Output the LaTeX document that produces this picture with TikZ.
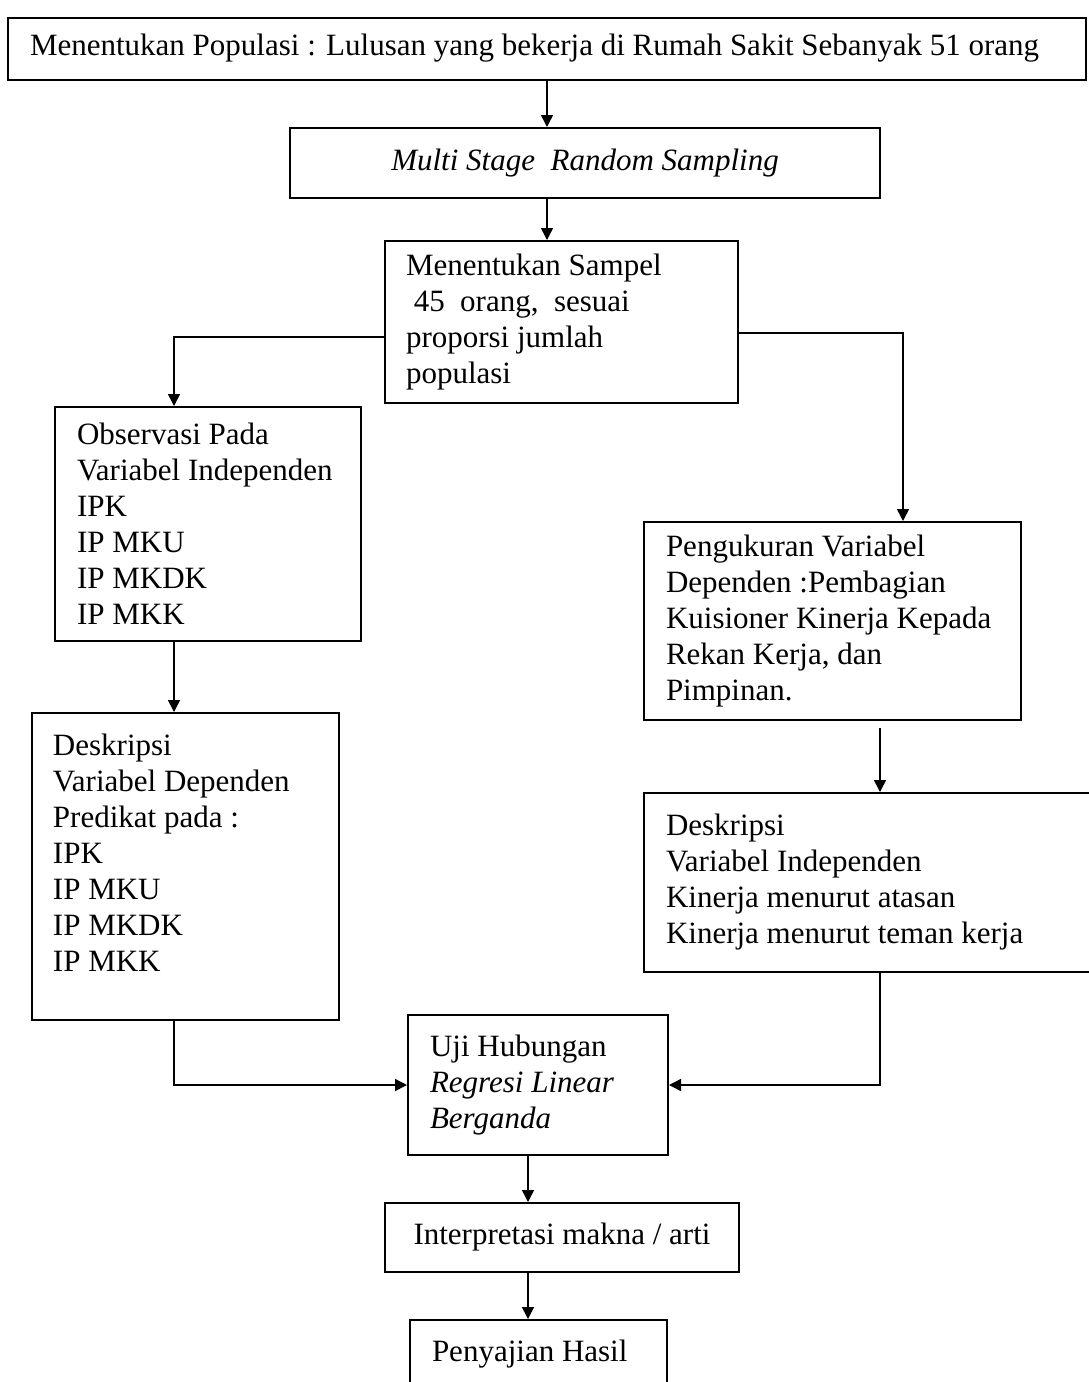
\documentclass[tikz,border=0pt]{standalone}
\usepackage{fontspec}
\setmainfont{Liberation Serif}
\usetikzlibrary{arrows.meta,calc,positioning}

\begin{document}
\begin{tikzpicture}[x=0.5pt,y=-0.5pt,
  box/.style={draw,line width=1pt,shape=rectangle,align=flush left,inner xsep=11pt,inner ysep=0pt,
    font=\fontsize{15.5}{18}\selectfont},
  arr/.style={line width=0.75pt,-{Triangle[width=6pt,length=6pt]}}]
\useasboundingbox (0,0) rectangle (1088,1382);
% boxes
\node[box, text width=517pt, minimum height=31pt] (pop) at (547,49) {\mbox{Menentukan Populasi : Lulusan yang bekerja di Rumah Sakit Sebanyak 51 orang}\\[-14pt]\mbox{}};
\node[box, align=flush center, text width=273pt, minimum height=35pt] (msrs) at (585,163) {\itshape Multi Stage\ \ Random Sampling};
\node[box, inner xsep=10.5pt, text width=155.5pt, minimum height=81pt] (sampel) at (561.5,322) {Menentukan Sampel\\ \ 45\ \ orang,\ \ sesuai\\ proporsi jumlah\\ populasi};
\node[box, text width=131pt, minimum height=117pt] (obs) at (208,524) {Observasi Pada\\ Variabel Independen\\ IPK\\ IP MKU\\ IP MKDK\\ IP MKK};
\node[box, inner xsep=10.5pt, text width=132.5pt, minimum height=153.5pt] (deskL) at (185.5,866.5) {Deskripsi\\ Variabel Dependen\\ Predikat pada :\\ IPK\\ IP MKU\\ IP MKDK\\ IP MKK\\[-4pt]\mbox{}};
\node[box, text width=166.5pt, minimum height=99pt] (peng) at (832.5,621) {Pengukuran Variabel\\ Dependen :Pembagian\\ Kuisioner Kinerja Kepada\\ Rekan Kerja, dan\\ Pimpinan.};
\node[box, text width=201pt, minimum height=89.5pt] (deskR) at (867,882.5) {Deskripsi\\ Variabel Independen\\ Kinerja menurut atasan\\ Kinerja menurut teman kerja};
\node[box, text width=108pt, minimum height=70pt] (uji) at (538,1085) {Uji Hubungan\\ \itshape Regresi Linear\\ \itshape Berganda};
\node[box, align=flush center, text width=155pt, minimum height=34.5pt] (interp) at (562,1237.5) {Interpretasi makna / arti};
\node[box, text width=106.5pt, minimum height=34pt] (hasil) at (538.5,1354) {Penyajian Hasil};
% connectors
\draw[arr] (pop.south) -- (pop.south |- msrs.north);
\draw[arr] (msrs.south -| pop.south) -- (sampel.north -| pop.south);
\draw[arr] ([yshift=-7.5pt]sampel.west) -| ([xshift=-17pt]obs.north);
\draw[arr] ([yshift=-5.5pt]sampel.east) -| ([xshift=35.25pt]peng.north);
\draw[arr] ([xshift=-17pt]obs.south) -- ([xshift=-5.75pt]deskL.north);
\draw[arr] ([xshift=23.75pt,yshift=-3.5pt]peng.south) -- ([xshift=6.5pt]deskR.north);
\draw[arr] ([xshift=-5.75pt]deskL.south) |- (uji.west);
\draw[arr] ([xshift=6.5pt]deskR.south) |- (uji.east);
\draw[arr] ([xshift=-5pt]uji.south) -- ([xshift=-17pt]interp.north);
\draw[arr] ([xshift=-17pt]interp.south) -- ([xshift=-5.25pt]hasil.north);
\end{tikzpicture}
\end{document}
